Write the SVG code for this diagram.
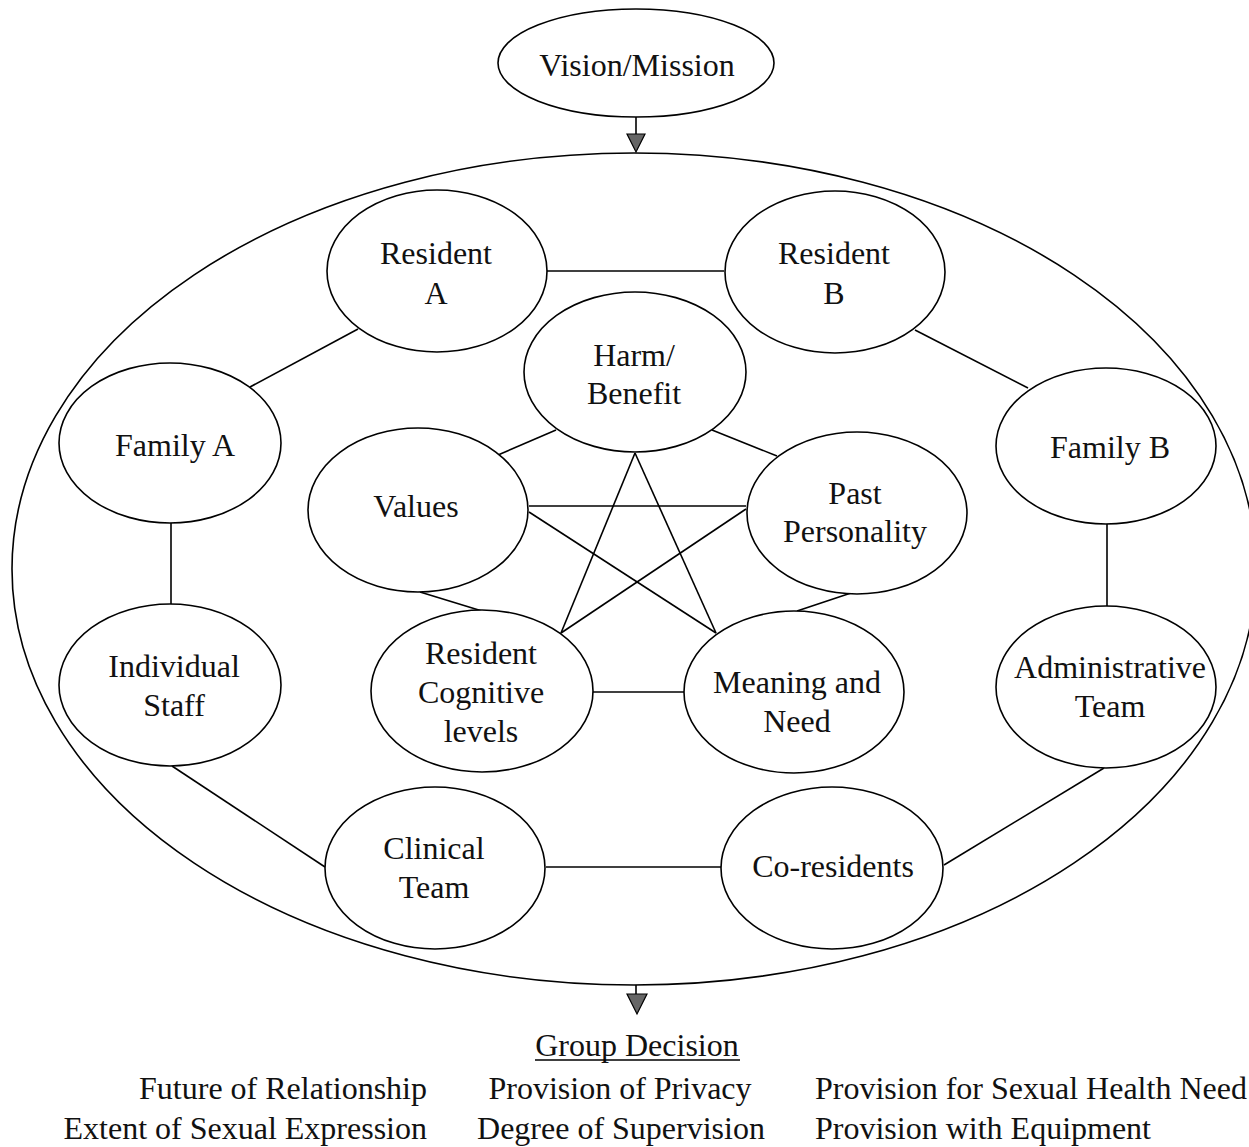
<svg xmlns="http://www.w3.org/2000/svg" width="1249" height="1147" viewBox="0 0 1249 1147">
<defs>
<style>
.n{fill:#fff;stroke:#000;stroke-width:1.6}
.t{font-family:"Liberation Serif","Times New Roman",serif;font-size:32px;fill:#111;text-anchor:middle}
.c line{stroke:#000;stroke-width:1.6}
.arr{fill:#666;stroke:#000;stroke-width:1.2}
</style>
</defs>
<rect width="1249" height="1147" fill="#fff"/>
<g id="context">
<ellipse cx="634" cy="569" rx="622" ry="416" fill="none" stroke="#000" stroke-width="1.6"/>
</g>
<g class="c" id="connectors">
<line x1="636" y1="117" x2="636" y2="134"/>
<polygon class="arr" points="627,134 645,134 636,152"/>
<line x1="636" y1="985" x2="636" y2="994"/>
<polygon class="arr" points="627,994 647,994 637,1014"/>
<line x1="546" y1="271" x2="724" y2="271"/>
<line x1="358" y1="329" x2="250" y2="387"/>
<line x1="915" y1="330" x2="1028" y2="388"/>
<line x1="171" y1="523" x2="171" y2="604"/>
<line x1="1107" y1="523" x2="1107" y2="606"/>
<line x1="172" y1="766" x2="325" y2="867"/>
<line x1="1104" y1="768" x2="944" y2="865"/>
<line x1="546" y1="867" x2="721" y2="867"/>
<line x1="556" y1="430" x2="498" y2="455"/>
<line x1="712" y1="430" x2="777" y2="456"/>
<line x1="420" y1="592" x2="482" y2="611"/>
<line x1="851" y1="593" x2="797" y2="611"/>
<line x1="593" y1="692" x2="684" y2="692"/>
<line x1="635" y1="453" x2="561" y2="633"/>
<line x1="635" y1="453" x2="716" y2="633"/>
<line x1="529" y1="506" x2="746" y2="506"/>
<line x1="529" y1="512" x2="716" y2="633"/>
<line x1="746" y1="509" x2="561" y2="633"/>
</g>
<g id="vision"><ellipse class="n" cx="636" cy="63" rx="138" ry="54"/><text class="t" x="637" y="76">Vision/Mission</text></g>
<g id="residentA"><ellipse class="n" cx="437" cy="271" rx="110" ry="81"/><text class="t" x="436" y="264">Resident</text><text class="t" x="436" y="304">A</text></g>
<g id="residentB"><ellipse class="n" cx="835" cy="272" rx="110" ry="81"/><text class="t" x="834" y="264">Resident</text><text class="t" x="834" y="304">B</text></g>
<g id="harm"><ellipse class="n" cx="635" cy="372" rx="111" ry="80"/><text class="t" x="634" y="366">Harm/</text><text class="t" x="634" y="404">Benefit</text></g>
<g id="familyA"><ellipse class="n" cx="170" cy="443" rx="111" ry="80"/><text class="t" x="175" y="456">Family A</text></g>
<g id="familyB"><ellipse class="n" cx="1106" cy="446" rx="110" ry="78"/><text class="t" x="1110" y="458">Family B</text></g>
<g id="values"><ellipse class="n" cx="418" cy="510" rx="110" ry="82"/><text class="t" x="416" y="517">Values</text></g>
<g id="past"><ellipse class="n" cx="857" cy="513" rx="110" ry="81"/><text class="t" x="855" y="504">Past</text><text class="t" x="855" y="542">Personality</text></g>
<g id="staff"><ellipse class="n" cx="170" cy="685" rx="111" ry="81"/><text class="t" x="174" y="677">Individual</text><text class="t" x="174" y="716">Staff</text></g>
<g id="cognitive"><ellipse class="n" cx="482" cy="691" rx="111" ry="81"/><text class="t" x="481" y="664">Resident</text><text class="t" x="481" y="703">Cognitive</text><text class="t" x="481" y="742">levels</text></g>
<g id="meaning"><ellipse class="n" cx="794" cy="692" rx="110" ry="81"/><text class="t" x="797" y="693">Meaning and</text><text class="t" x="797" y="732">Need</text></g>
<g id="admin"><ellipse class="n" cx="1106" cy="687" rx="110" ry="81"/><text class="t" x="1110" y="678">Administrative</text><text class="t" x="1110" y="717">Team</text></g>
<g id="clinical"><ellipse class="n" cx="435" cy="868" rx="110" ry="81"/><text class="t" x="434" y="859">Clinical</text><text class="t" x="434" y="898">Team</text></g>
<g id="coresidents"><ellipse class="n" cx="832" cy="868" rx="111" ry="81"/><text class="t" x="833" y="877">Co-residents</text></g>
<g id="decision">
<text class="t" x="637" y="1056">Group Decision</text>
<line x1="535" y1="1060" x2="740" y2="1060" stroke="#000" stroke-width="1.5"/>
<text class="t" x="427" y="1099" style="text-anchor:end">Future of Relationship</text>
<text class="t" x="427" y="1139" style="text-anchor:end">Extent of Sexual Expression</text>
<text class="t" x="620" y="1099">Provision of Privacy</text>
<text class="t" x="621" y="1139">Degree of Supervision</text>
<text class="t" x="815" y="1099" style="text-anchor:start">Provision for Sexual Health Need</text>
<text class="t" x="815" y="1139" style="text-anchor:start">Provision with Equipment</text>
</g>
</svg>
